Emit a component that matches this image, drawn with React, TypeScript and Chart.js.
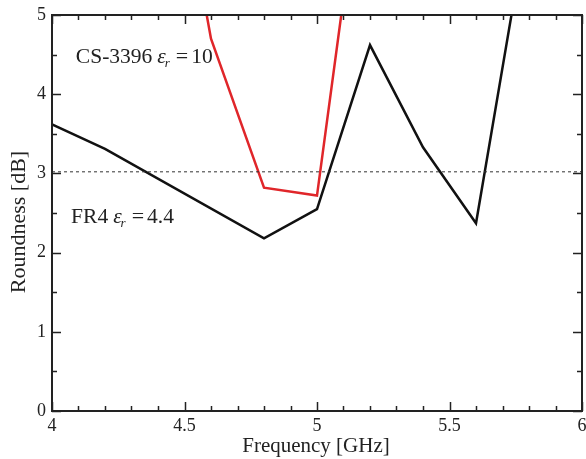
import React, { useEffect, useRef } from "react";
import { Chart, registerables } from "chart.js";

Chart.register(...registerables);

// Frequency [GHz] / Roundness [dB]
const fr4Freq = [4.0, 4.2, 4.8, 5.0, 5.2, 5.4, 5.6, 5.8];
const fr4Roundness = [3.62, 3.31, 2.18, 2.55, 4.62, 3.33, 2.37, 6.3];
const csFreq = [4.4, 4.6, 4.8, 5.0, 5.2];
const csRoundness = [8.4, 4.7, 2.82, 2.72, 7.7];
const thresholdFreq = [4.0, 6.0];
const thresholdValue = [3.02, 3.02];
const xTickValues = [4, 4.5, 5, 5.5, 6];
const xTickLabels = ["4", "4.5", "5", "5.5", "6"];
const yTickValues = [0, 1, 2, 3, 4, 5];
const yTickLabels = ["0", "1", "2", "3", "4", "5"];

const FONT = '"Liberation Serif", "Times New Roman", serif';
const INK = "#222";

const toPoints = (xs: number[], ys: number[]) => xs.map((x, i) => ({ x, y: ys[i] }));

function drawEpsLabel(ctx: CanvasRenderingContext2D, x: number, y: number, prefix: string, value: string) {
  ctx.fillStyle = INK;
  ctx.textBaseline = "alphabetic";
  ctx.textAlign = "left";
  ctx.font = `21.5px ${FONT}`;
  ctx.fillText(prefix, x, y);
  let cx = x + ctx.measureText(prefix).width + 5;
  ctx.font = `italic 21.5px ${FONT}`;
  ctx.fillText("\u03b5", cx, y);
  cx += ctx.measureText("\u03b5").width;
  ctx.font = `italic 13px ${FONT}`;
  ctx.fillText("r", cx - 1, y + 4);
  cx += ctx.measureText("r").width + 5;
  ctx.font = `22px ${FONT}`;
  ctx.fillText("=", cx, y);
  cx += ctx.measureText("=").width + 3;
  ctx.font = `21.5px ${FONT}`;
  ctx.fillText(value, cx, y);
}

const framePlugin = {
  id: "frame",
  afterDraw(chart: any) {
    const { ctx, chartArea: a, scales } = chart;
    const xs = scales.x;
    const ys = scales.y;
    ctx.save();
    ctx.strokeStyle = INK;
    ctx.lineWidth = 1.5;
    ctx.beginPath();
    for (let i = 0; i <= 20; i++) {
      const v = 4 + i * 0.1;
      const px = Math.round(xs.getPixelForValue(v)) + 0.5;
      const len = i % 5 === 0 ? 9 : 5;
      ctx.moveTo(px, a.bottom);
      ctx.lineTo(px, a.bottom - len);
      ctx.moveTo(px, a.top);
      ctx.lineTo(px, a.top + len);
    }
    for (let i = 0; i <= 10; i++) {
      const v = i * 0.5;
      const py = Math.round(ys.getPixelForValue(v)) + 0.5;
      const len = i % 2 === 0 ? 9 : 5;
      ctx.moveTo(a.left, py);
      ctx.lineTo(a.left + len, py);
      ctx.moveTo(a.right, py);
      ctx.lineTo(a.right - len, py);
    }
    ctx.stroke();
    ctx.lineWidth = 2;
    ctx.strokeRect(a.left, a.top, a.right - a.left, a.bottom - a.top);

    // annotations
    drawEpsLabel(ctx, xs.getPixelForValue(4.09), ys.getPixelForValue(4.39), "CS-3396", "10");
    drawEpsLabel(ctx, xs.getPixelForValue(4.072), ys.getPixelForValue(2.37), "FR4", "4.4");

    // axis titles
    ctx.fillStyle = INK;
    ctx.font = `21px ${FONT}`;
    ctx.textAlign = "center";
    ctx.textBaseline = "alphabetic";
    ctx.fillText("Frequency [GHz]", 316, 452);
    ctx.save();
    ctx.translate(25, 222);
    ctx.rotate(-Math.PI / 2);
    ctx.font = `22px ${FONT}`;
    ctx.fillText("Roundness [dB]", 0, 0);
    ctx.restore();
    ctx.restore();
  },
};

export default function App() {
  const ref = useRef<HTMLCanvasElement | null>(null);
  useEffect(() => {
    if (!ref.current) return;
    const chart = new Chart(ref.current, {
      type: "line",
      data: {
        datasets: [
          {
            data: toPoints(thresholdFreq, thresholdValue),
            borderColor: "#333",
            borderWidth: 1,
            borderDash: [3, 3],
            pointRadius: 0,
          },
          {
            data: toPoints(fr4Freq, fr4Roundness),
            borderColor: "#111",
            borderWidth: 2.5,
            pointRadius: 0,
            tension: 0,
          },
          {
            data: toPoints(csFreq, csRoundness),
            borderColor: "#e0262a",
            borderWidth: 2.5,
            pointRadius: 0,
            tension: 0,
          },
        ],
      },
      options: {
        animation: false,
        responsive: false,
        maintainAspectRatio: false,
        events: [],
        layout: { padding: { left: 0, top: 15, right: 4, bottom: 0 } },
        plugins: { legend: { display: false }, tooltip: { enabled: false } },
        scales: {
          x: {
            type: "linear",
            min: 4,
            max: 6,
            afterFit: (s: any) => {
              s.height = 48;
              s.paddingLeft = 0;
              s.paddingRight = 0;
            },
            afterBuildTicks: (s: any) => {
              s.ticks = xTickValues.map((v) => ({ value: v }));
            },
            grid: { display: false, drawTicks: false },
            border: { display: false },
            ticks: {
              padding: 4,
              maxRotation: 0,
              autoSkip: false,
              color: INK,
              font: { family: FONT, size: 18 },
              callback: (v: any) => xTickLabels[xTickValues.indexOf(Number(v))] ?? "",
            },
          },
          y: {
            type: "linear",
            min: 0,
            max: 5,
            afterFit: (s: any) => {
              s.width = 52;
              s.paddingTop = 0;
              s.paddingBottom = 0;
            },
            afterBuildTicks: (s: any) => {
              s.ticks = yTickValues.map((v) => ({ value: v }));
            },
            grid: { display: false, drawTicks: false },
            border: { display: false },
            ticks: {
              padding: 6,
              autoSkip: false,
              color: INK,
              font: { family: FONT, size: 18 },
              callback: (v: any) => yTickLabels[yTickValues.indexOf(Number(v))] ?? "",
            },
          },
        },
      },
      plugins: [framePlugin],
    });
    return () => chart.destroy();
  }, []);
  return (
    <div style={{ position: "absolute", left: 0, top: 0, width: 586, height: 459, background: "#fff" }}>
      <canvas ref={ref} width={586} height={459} />
    </div>
  );
}
